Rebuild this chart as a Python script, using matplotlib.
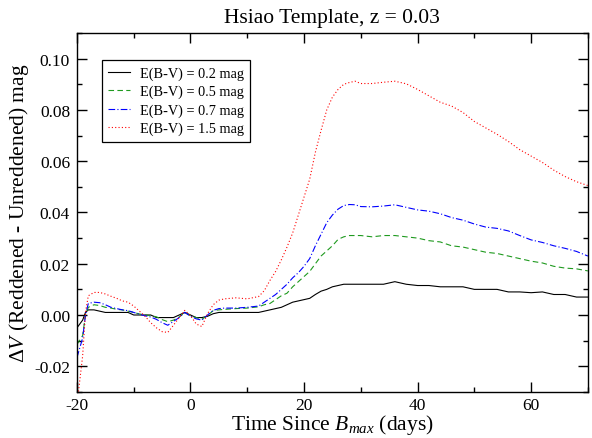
import matplotlib
matplotlib.use('Agg')
import matplotlib.pyplot as plt
from matplotlib.ticker import MultipleLocator

plt.rcParams['font.family'] = ['Liberation Serif', 'DejaVu Serif']
plt.rcParams['mathtext.fontset'] = 'custom'
plt.rcParams['mathtext.rm'] = 'Liberation Serif'
plt.rcParams['mathtext.it'] = 'Liberation Serif:italic'
plt.rcParams['axes.unicode_minus'] = False

# days since B maximum
days = [-20, -19, -18.5, -18, -17, -16, -15, -14, -13, -12, -11, -10, -9, -8, -7, -6, -5, -4,
        -3, -2, -1, 0, 1, 2, 3, 4, 5, 6, 8, 10, 12, 13, 14, 15, 16, 17, 18, 19, 20, 21,
        22, 23, 24, 25, 26, 27, 28, 29, 30, 32, 34, 36, 38, 40, 42, 44, 46, 48, 50, 52,
        54, 56, 58, 60, 62, 64, 66, 68, 70]

ebv_02 = [-0.005, -0.002, 0.001, 0.002, 0.002, 0.0015, 0.001, 0.001, 0.001, 0.001, 0.001, 0.0,
          0.0, 0.0, 0.0, -0.001, -0.001, -0.001, -0.001, 0.0, 0.001, 0.0, -0.001, -0.001,
          -0.0005, 0.0005, 0.001, 0.001, 0.001, 0.001, 0.001, 0.0015, 0.002, 0.0025, 0.003,
          0.004, 0.005, 0.0055, 0.006, 0.0065, 0.008, 0.0093, 0.010, 0.011, 0.0115, 0.012,
          0.012, 0.012, 0.012, 0.012, 0.012, 0.013, 0.012, 0.0115, 0.0115, 0.011, 0.011,
          0.011, 0.010, 0.010, 0.010, 0.009, 0.009, 0.0087, 0.009, 0.008, 0.008, 0.007, 0.007]

ebv_05 = [-0.0115, -0.008, 0.0, 0.003, 0.004, 0.0037, 0.003, 0.0027, 0.0022, 0.002, 0.0015, 0.001,
          0.0004, 0.0, -0.0003, -0.0007, -0.0018, -0.0026, -0.002, -0.0008, 0.001, -0.0003,
          -0.001, -0.0017, -0.0002, 0.0017, 0.002, 0.0022, 0.0025, 0.0027, 0.0032, 0.004,
          0.0045, 0.006, 0.0075, 0.0085, 0.011, 0.013, 0.015, 0.017, 0.020, 0.023, 0.025,
          0.027, 0.0295, 0.0305, 0.031, 0.031, 0.031, 0.0305, 0.031, 0.031, 0.0305, 0.030,
          0.029, 0.0285, 0.027, 0.0265, 0.0255, 0.0245, 0.024, 0.023, 0.022, 0.021, 0.0203,
          0.019, 0.0183, 0.018, 0.0172]

ebv_07 = [-0.0166, -0.009, 0.0, 0.0045, 0.005, 0.0048, 0.004, 0.003, 0.0025, 0.002, 0.0017, 0.001,
          0.0003, -0.0003, -0.0008, -0.0017, -0.003, -0.004, -0.0025, -0.001, 0.001, -0.0005,
          -0.0015, -0.002, 0.0, 0.0018, 0.0025, 0.0027, 0.0027, 0.003, 0.0035, 0.005,
          0.0065, 0.008, 0.010, 0.012, 0.0145, 0.0165, 0.019, 0.022, 0.027, 0.0315, 0.036,
          0.039, 0.0413, 0.0427, 0.0431, 0.043, 0.0423, 0.0422, 0.0425, 0.043, 0.042, 0.041,
          0.0405, 0.0395, 0.038, 0.037, 0.0355, 0.0343, 0.0338, 0.0328, 0.031, 0.0293,
          0.0283, 0.027, 0.026, 0.0248, 0.023]

ebv_15 = [-0.035, -0.016, 0.001, 0.0075, 0.0088, 0.0088, 0.0082, 0.0073, 0.0065, 0.0055, 0.005,
          0.0035, 0.0015, -0.0005, -0.003, -0.005, -0.0065, -0.0068, -0.004, -0.001, 0.0018,
          -0.0002, -0.0035, -0.0045, 0.0005, 0.004, 0.0058, 0.0063, 0.0067, 0.0063, 0.0072,
          0.0095, 0.0135, 0.017, 0.0215, 0.0265, 0.032, 0.039, 0.046, 0.053, 0.0635, 0.072,
          0.080, 0.085, 0.088, 0.090, 0.0907, 0.0912, 0.0903, 0.0903, 0.0908, 0.0912, 0.0902,
          0.088, 0.0855, 0.083, 0.0815, 0.079, 0.0755, 0.073, 0.0705, 0.0677, 0.0645, 0.062,
          0.0595, 0.0565, 0.054, 0.052, 0.0505]

labels = ['E(B-V) = 0.2 mag', 'E(B-V) = 0.5 mag', 'E(B-V) = 0.7 mag', 'E(B-V) = 1.5 mag']

fig = plt.figure(figsize=(5.92, 4.39), dpi=100)
ax = fig.add_axes([0.130, 0.105, 0.863, 0.8175])

ax.plot(days, ebv_02, color='black', lw=0.8, ls='-', label=labels[0])
ax.plot(days, ebv_05, color='#1f9a1f', lw=0.8, ls=(0, (5, 3)), label=labels[1])
ax.plot(days, ebv_07, color='#0000ff', lw=0.8, ls=(0, (6, 2, 1, 2)), label=labels[2])
ax.plot(days, ebv_15, color='#ff0000', lw=0.8, ls=(0, (1, 2)), label=labels[3])

ax.set_xlim(-20, 70)
ax.set_ylim(-0.03, 0.11)
ax.xaxis.set_major_locator(MultipleLocator(20))
ax.xaxis.set_minor_locator(MultipleLocator(10))
ax.yaxis.set_major_locator(MultipleLocator(0.02))
ax.yaxis.set_minor_locator(MultipleLocator(0.01))
ax.yaxis.set_major_formatter(plt.FuncFormatter(lambda v, p: f'{v:.2f}'))
ax.tick_params(which='both', direction='in', top=True, right=True, labelsize=12.5, width=1)
ax.tick_params(which='major', length=7, pad=5)
ax.tick_params(axis='x', which='major', pad=4)
ax.tick_params(which='minor', length=3.5)
for s in ax.spines.values():
    s.set_linewidth(1)

ax.set_title('Hsiao Template, z = 0.03', fontsize=15.5, pad=8)
ax.set_xlabel(r'Time Since $B_{max}$ (days)', fontsize=15.5, labelpad=-1)
ax.set_ylabel(r'$\Delta V$ (Reddened - Unreddened) mag', fontsize=15.5, labelpad=2)

leg = ax.legend(loc='upper left', bbox_to_anchor=(0.049, 0.925), borderaxespad=0,
                fontsize=10.3, handlelength=1.5, handletextpad=0.7, labelspacing=0.35,
                fancybox=False, framealpha=1, edgecolor='black', borderpad=0.45)
leg.get_frame().set_linewidth(0.9)

fig.savefig('out.png', dpi=100)
